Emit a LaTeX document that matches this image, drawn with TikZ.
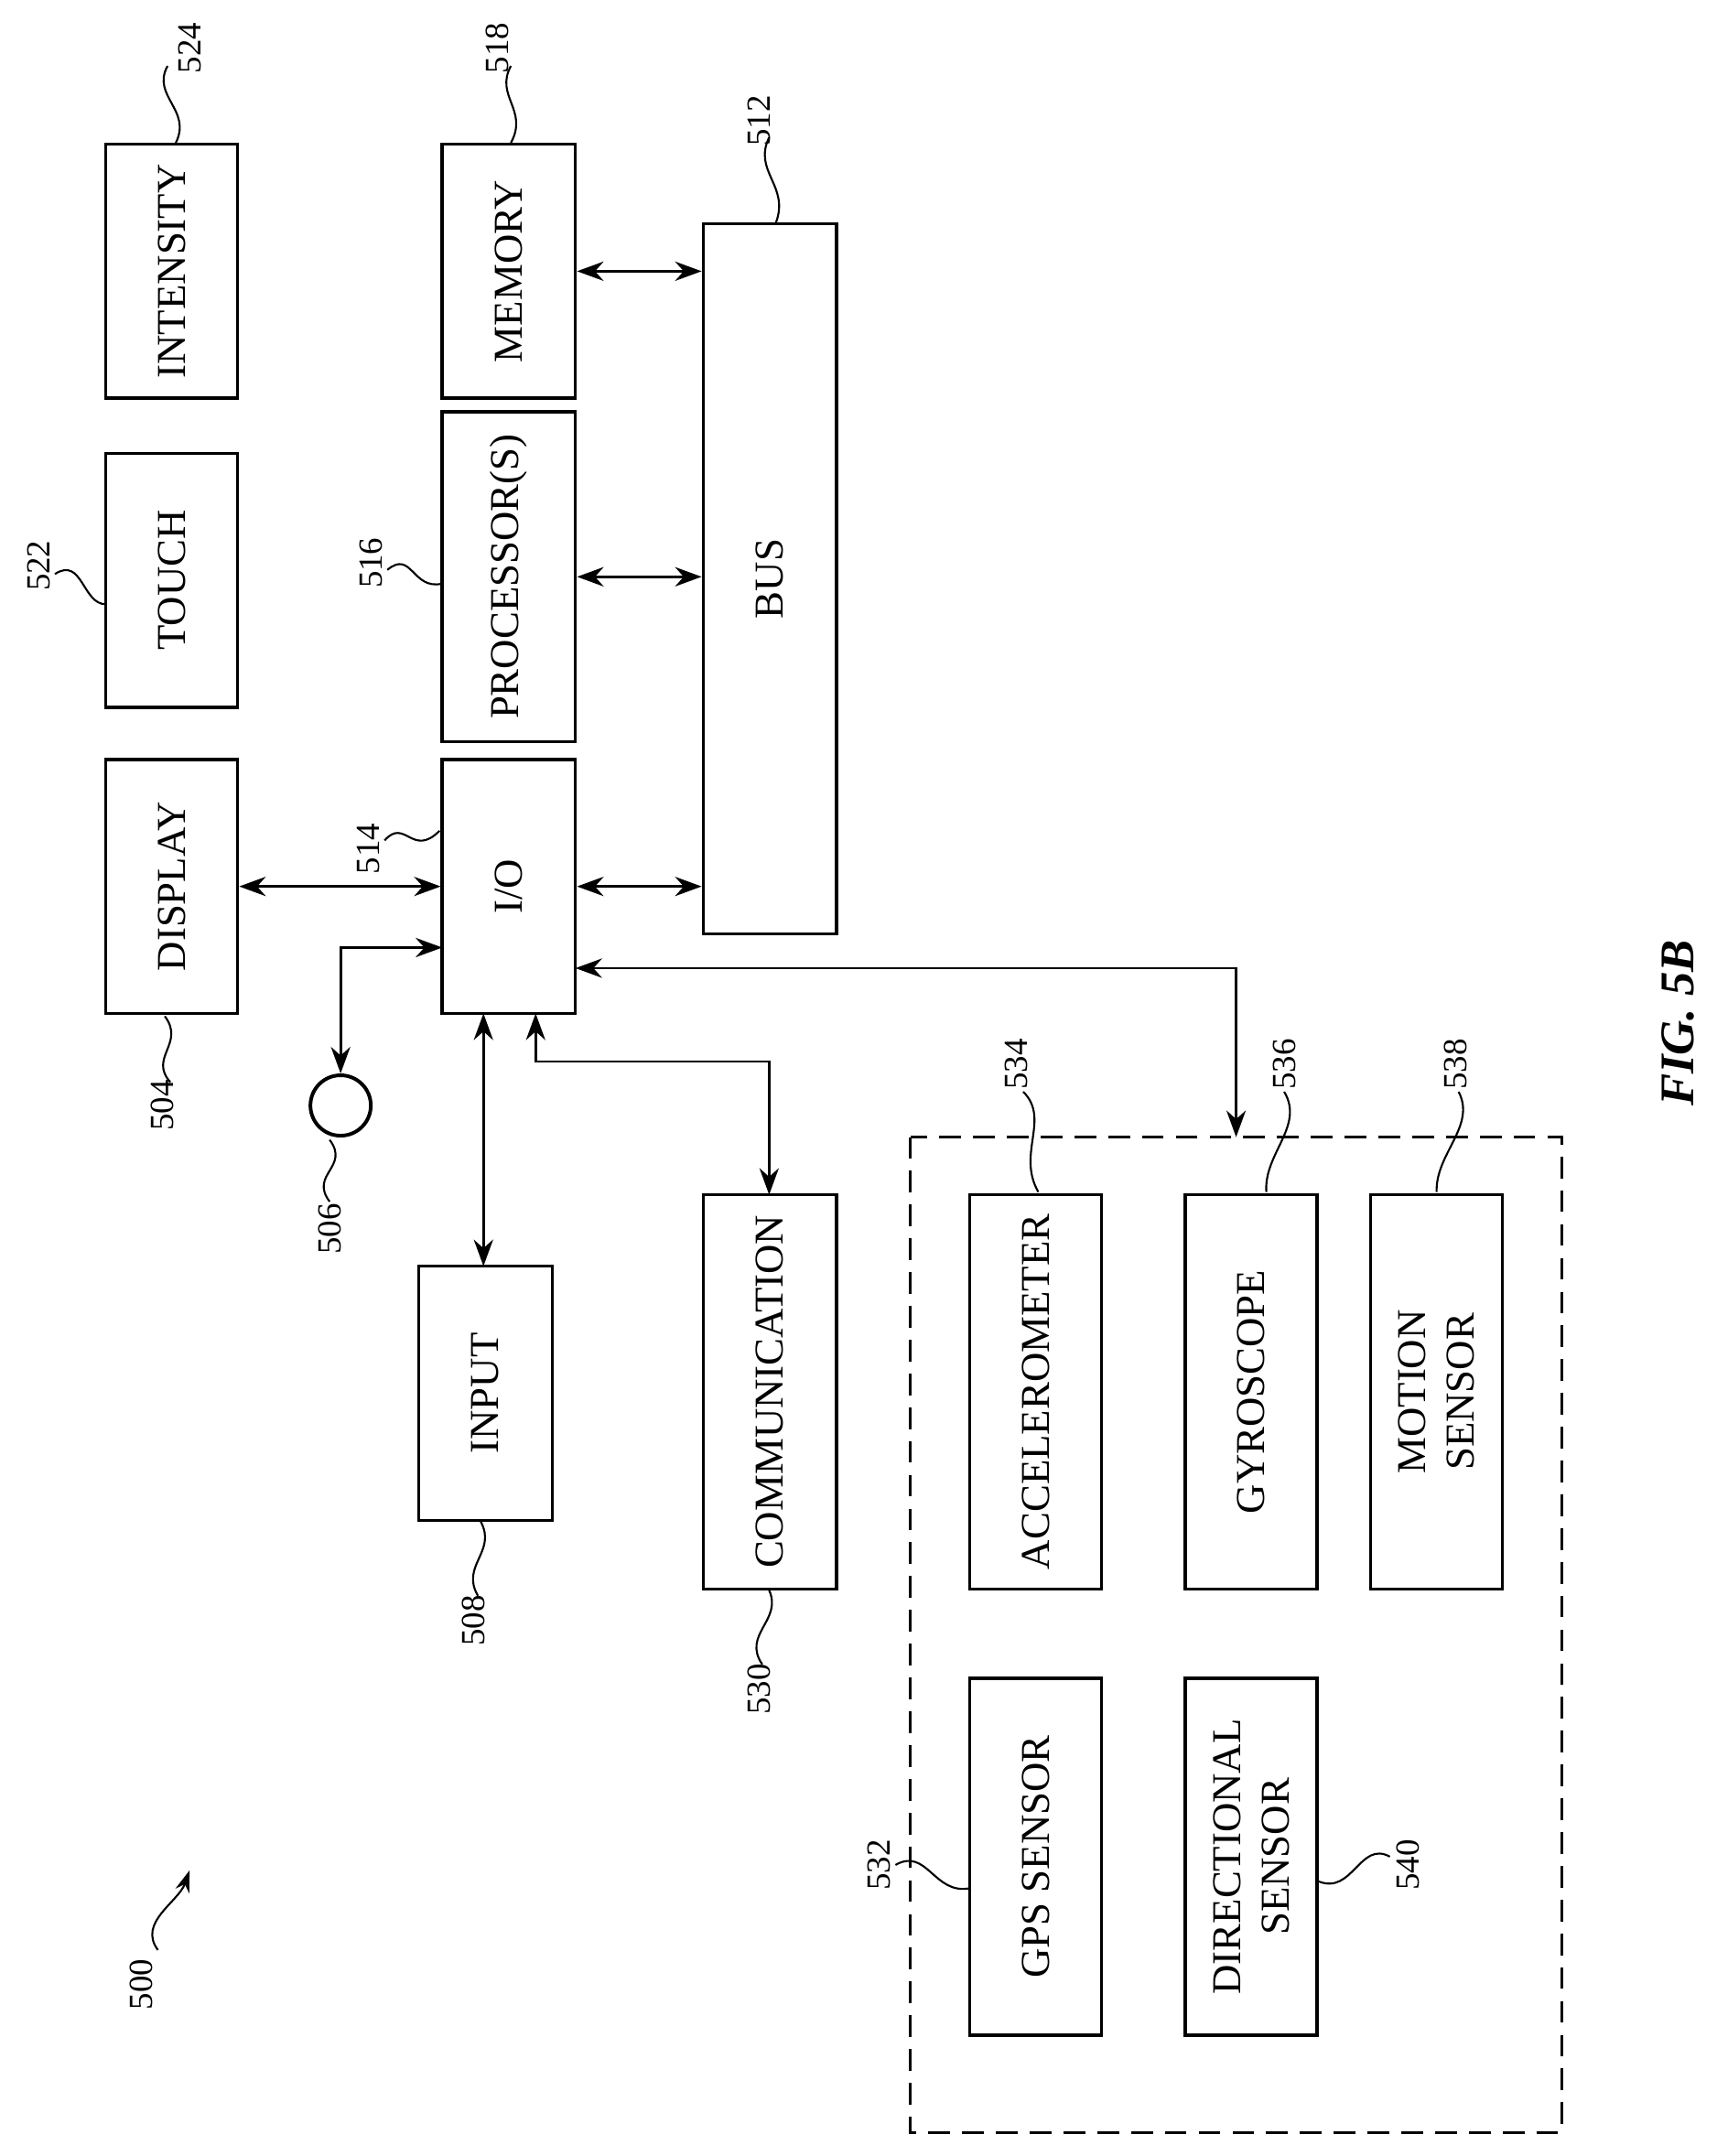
\documentclass[tikz,border=0pt]{standalone}
\usepackage{fontspec}
\setmainfont{Liberation Serif}
\usetikzlibrary{arrows.meta}
\begin{document}
\begin{tikzpicture}[x=0.02cm,y=-0.02cm,line width=1.1pt,
  box/.style={draw,inner sep=0,line width=1.3pt},
  lbl/.style={rotate=90,font=\fontsize{17}{20}\selectfont,align=center},
  num/.style={rotate=90,font=\fontsize{14}{16}\selectfont},
  ar/.style={{Stealth[length=11pt,width=8pt]}-{Stealth[length=11pt,width=8pt]}},
  lead/.style={line width=0.8pt}]
\useasboundingbox (0,0) rectangle (1250,1570);
\newcommand\B[6]{\node[box,minimum width={(#4-#2)*0.02cm},minimum height={(#5-#3)*0.02cm}] (#1) at ({(#2+#4)/2},{(#3+#5)/2}) {};
\node[lbl] at (#1) {#6};}
\B{int}{77}{105}{173}{290}{INTENSITY}
\B{tch}{77}{330}{173}{515}{TOUCH}
\B{dsp}{77}{553}{173}{738}{DISPLAY}
\B{mem}{322}{105}{419}{290}{MEMORY}
\B{pro}{322}{300}{419}{540}{PROCESSOR(S)}
\B{io}{322}{553}{419}{738}{I/O}
\B{bus}{512}{163}{609}{680}{BUS}
\B{inp}{305}{922}{402}{1107}{INPUT}
\B{com}{512}{870}{609}{1157}{COMMUNICATION}
\B{acc}{706}{870}{802}{1157}{ACCELEROMETER}
\B{gyr}{863}{870}{959}{1157}{GYROSCOPE}
\B{mot}{998}{870}{1094}{1157}{MOTION\\SENSOR}
\B{gps}{706}{1222}{802}{1482}{GPS SENSOR}
\B{dir}{863}{1222}{959}{1482}{DIRECTIONAL\\SENSOR}
\draw[dash pattern=on 9pt off 5pt,line width=1.1pt] (663,828) rectangle (1137,1553);
\node[draw,circle,minimum size=0.88cm,line width=1.5pt,inner sep=0] (cir) at (248,805) {};
\draw[ar] (mem.east) -- (mem.east -| bus.west);
\draw[ar] (pro.east) -- (pro.east -| bus.west);
\draw[ar] (io.east) -- (io.east -| bus.west);
\draw[ar] (dsp.east) -- (io.west);
\coordinate (c1) at (322,690); \coordinate (c2) at (248,690);
\draw[ar] (c1) -- (c2) -- (cir.north);
\coordinate (i1) at (352,738); \coordinate (i2) at (352,922);
\draw[ar] (i1) -- (i2);
\coordinate (k1) at (390,738); \coordinate (k2) at (390,773); \coordinate (k3) at (560,773); \coordinate (k4) at (560,870);
\draw[ar] (k1) -- (k2) -- (k3) -- (k4);
\coordinate (g1) at (419,705); \coordinate (g2) at (900,705); \coordinate (g3) at (900,828);
\draw[ar] (g1) -- (g2) -- (g3);
% labels
\node[num] at (138,35) {524}; \draw[lead] (122,48) .. controls (110,70) and (140,80) .. (128,104);
\node[num] at (362,35) {518}; \draw[lead] (372,48) .. controls (360,70) and (385,80) .. (372,104);
\node[num] at (553,88) {512}; \draw[lead] (560,100) .. controls (548,125) and (575,135) .. (565,162);
\node[num] at (28,412) {522}; \draw[lead] (40,418) .. controls (60,405) and (60,440) .. (77,440);
\node[num] at (270,410) {516}; \draw[lead] (282,415) .. controls (300,400) and (300,430) .. (322,425);
\node[num] at (268,618) {514}; \draw[lead] (280,612) .. controls (295,595) and (300,625) .. (320,605);
\node[num] at (118,805) {504}; \draw[lead] (124,788) .. controls (108,770) and (135,760) .. (120,740);
\node[num] at (240,895) {506}; \draw[lead] (240,875) .. controls (225,855) and (255,850) .. (240,830);
\node[num] at (345,1180) {508}; \draw[lead] (348,1162) .. controls (335,1140) and (362,1130) .. (350,1108);
\node[num] at (553,1230) {530}; \draw[lead] (555,1212) .. controls (540,1190) and (570,1180) .. (560,1158);
\node[num] at (740,775) {534}; \draw[lead] (745,795) .. controls (765,815) and (740,840) .. (756,868);
\node[num] at (935,775) {536}; \draw[lead] (935,795) .. controls (950,820) and (920,840) .. (922,868);
\node[num] at (1060,775) {538}; \draw[lead] (1062,795) .. controls (1075,820) and (1045,840) .. (1046,868);
\node[num] at (640,1358) {532}; \draw[lead] (652,1358) .. controls (675,1345) and (680,1380) .. (706,1375);
\node[num] at (1025,1358) {540}; \draw[lead] (1012,1352) .. controls (990,1340) and (985,1380) .. (960,1370);
\node[num] at (103,1445) {500};
\draw[lead,-{Stealth[length=9pt,width=6pt]}] (115,1420) .. controls (100,1400) and (130,1385) .. (138,1362);
\node[rotate=90,font=\fontsize{20}{24}\selectfont\bfseries\itshape] at (1222,745) {FIG. 5B};
\end{tikzpicture}
\end{document}
